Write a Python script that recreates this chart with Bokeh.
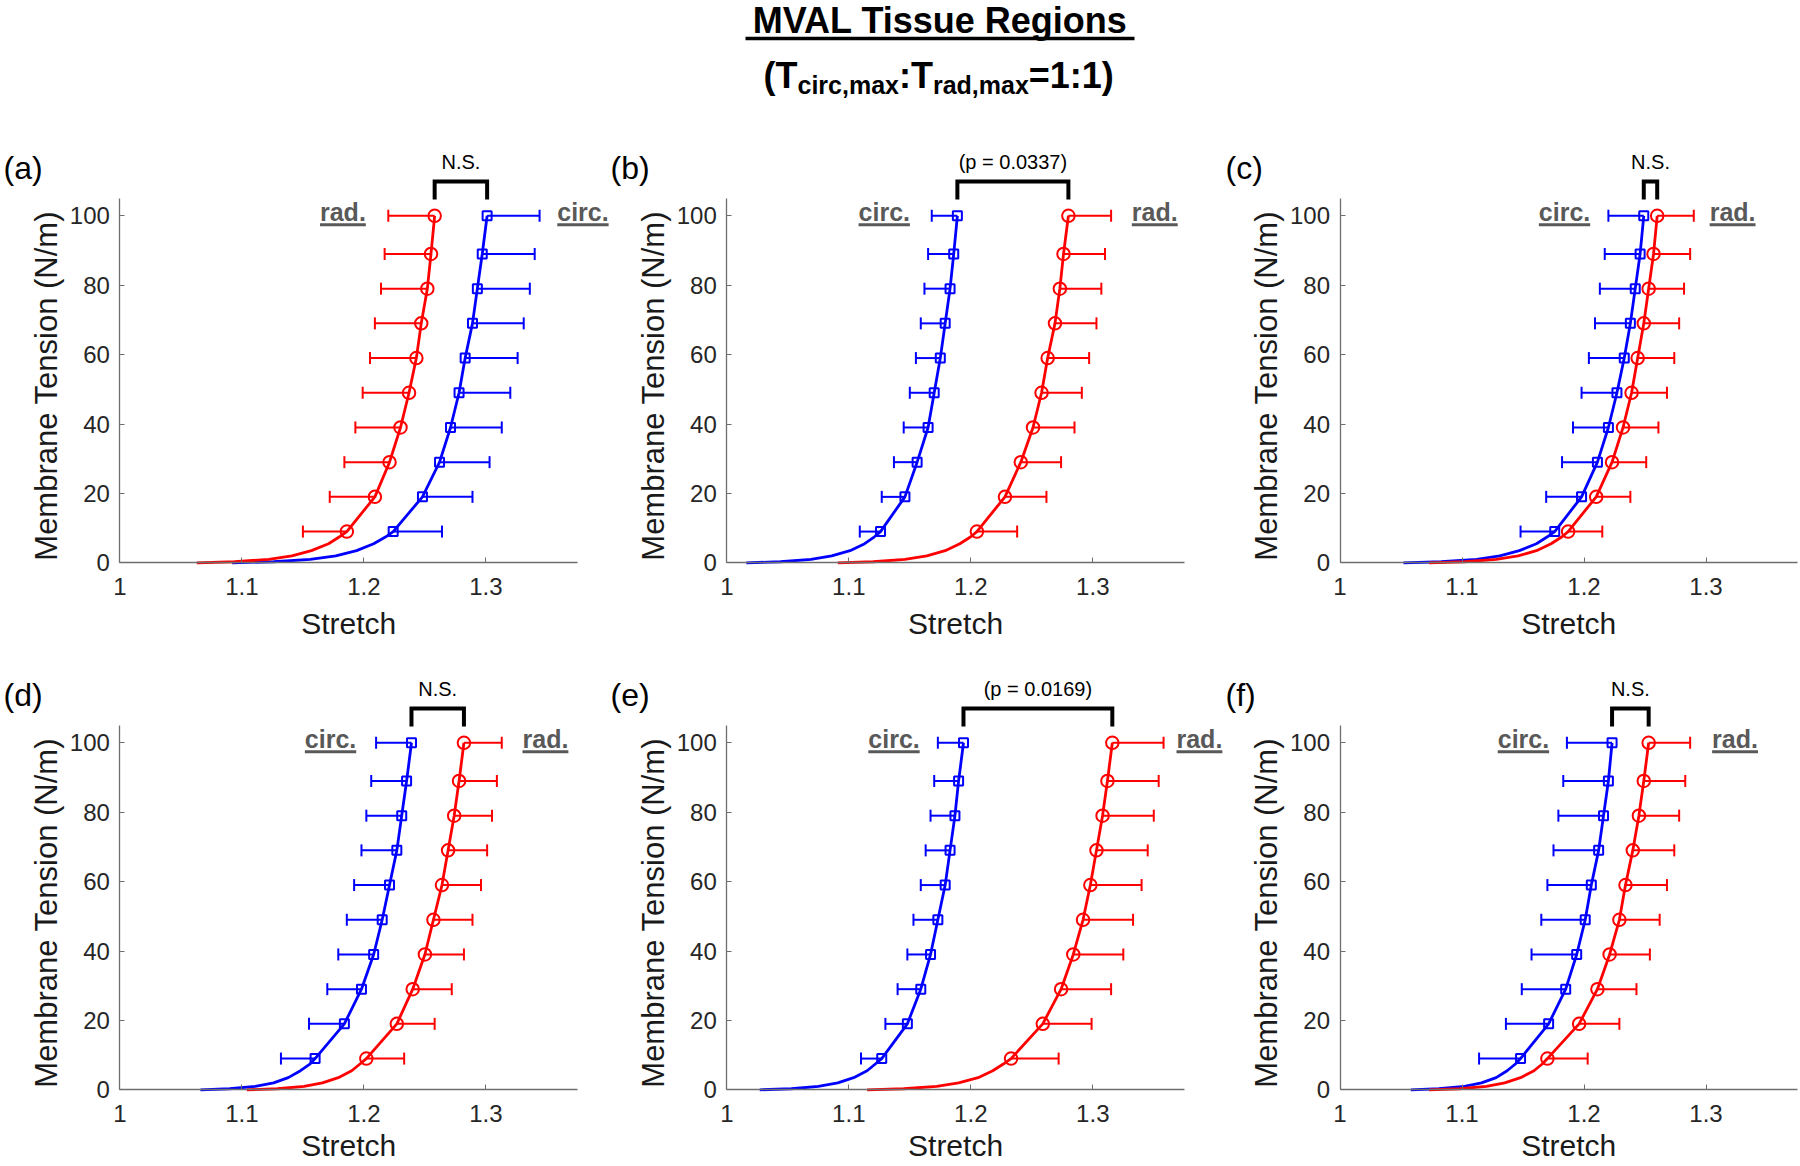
import math
from bokeh.plotting import figure
from bokeh.models import Range1d, Whisker, TeeHead, ColumnDataSource, FixedTicker
from bokeh.layouts import column, row
from bokeh.embed import file_html
from bokeh.resources import INLINE
from bokeh.core.properties import value

FONT = "Liberation Sans"

# ---------------- data ----------------
tension = [9, 19, 29, 39, 49, 59, 69, 79, 89, 100]
toe_tension = [0, 0.3, 1, 2, 3.5, 5.5, 7.5]

a_circ = [1.224, 1.248, 1.262, 1.271, 1.278, 1.283, 1.289, 1.293, 1.297, 1.301]
a_circ_err = [0.040, 0.041, 0.041, 0.042, 0.042, 0.043, 0.042, 0.043, 0.043, 0.043]
a_circ_toe = [1.092, 1.126, 1.156, 1.177, 1.194, 1.208, 1.218]
a_rad = [1.186, 1.209, 1.221, 1.230, 1.237, 1.243, 1.247, 1.252, 1.255, 1.258]
a_rad_err = [0.036, 0.037, 0.037, 0.037, 0.038, 0.038, 0.038, 0.038, 0.038, 0.038]
a_rad_toe = [1.063, 1.094, 1.122, 1.141, 1.157, 1.171, 1.180]

b_circ = [1.126, 1.146, 1.156, 1.165, 1.170, 1.175, 1.179, 1.183, 1.186, 1.189]
b_circ_err = [0.017, 0.019, 0.019, 0.020, 0.020, 0.020, 0.020, 0.021, 0.021, 0.021]
b_circ_toe = [1.016, 1.044, 1.069, 1.086, 1.101, 1.113, 1.121]
b_rad = [1.205, 1.228, 1.241, 1.251, 1.258, 1.263, 1.269, 1.273, 1.276, 1.280]
b_rad_err = [0.033, 0.034, 0.033, 0.034, 0.033, 0.034, 0.034, 0.034, 0.034, 0.035]
b_rad_toe = [1.091, 1.120, 1.146, 1.164, 1.179, 1.191, 1.200]

c_circ = [1.176, 1.198, 1.211, 1.220, 1.227, 1.233, 1.238, 1.242, 1.246, 1.249]
c_circ_err = [0.028, 0.029, 0.029, 0.029, 0.029, 0.029, 0.029, 0.029, 0.029, 0.029]
c_circ_toe = [1.052, 1.083, 1.112, 1.131, 1.147, 1.161, 1.170]
c_rad = [1.187, 1.210, 1.223, 1.232, 1.239, 1.244, 1.249, 1.253, 1.257, 1.260]
c_rad_err = [0.028, 0.028, 0.028, 0.029, 0.029, 0.030, 0.029, 0.029, 0.030, 0.030]
c_rad_toe = [1.073, 1.102, 1.128, 1.146, 1.161, 1.173, 1.182]

d_circ = [1.160, 1.184, 1.198, 1.208, 1.215, 1.221, 1.227, 1.231, 1.235, 1.239]
d_circ_err = [0.028, 0.029, 0.028, 0.029, 0.029, 0.029, 0.029, 0.029, 0.029, 0.029]
d_circ_toe = [1.066, 1.090, 1.111, 1.126, 1.138, 1.148, 1.156]
d_rad = [1.202, 1.227, 1.240, 1.250, 1.257, 1.264, 1.269, 1.274, 1.278, 1.282]
d_rad_err = [0.031, 0.031, 0.032, 0.032, 0.032, 0.032, 0.032, 0.031, 0.031, 0.031]
d_rad_toe = [1.104, 1.129, 1.151, 1.166, 1.179, 1.190, 1.197]

e_circ = [1.127, 1.148, 1.159, 1.167, 1.173, 1.179, 1.183, 1.187, 1.190, 1.194]
e_circ_err = [0.017, 0.018, 0.019, 0.019, 0.020, 0.020, 0.020, 0.020, 0.020, 0.021]
e_circ_toe = [1.027, 1.053, 1.075, 1.091, 1.104, 1.115, 1.122]
e_rad = [1.233, 1.259, 1.274, 1.284, 1.292, 1.298, 1.303, 1.308, 1.312, 1.316]
e_rad_err = [0.039, 0.040, 0.041, 0.041, 0.041, 0.042, 0.042, 0.042, 0.042, 0.042]
e_rad_toe = [1.115, 1.145, 1.172, 1.190, 1.206, 1.218, 1.227]

f_circ = [1.148, 1.171, 1.185, 1.194, 1.201, 1.206, 1.212, 1.216, 1.220, 1.223]
f_circ_err = [0.034, 0.035, 0.036, 0.037, 0.036, 0.036, 0.037, 0.037, 0.037, 0.037]
f_circ_toe = [1.058, 1.081, 1.102, 1.116, 1.128, 1.137, 1.144]
f_rad = [1.170, 1.196, 1.211, 1.221, 1.229, 1.234, 1.240, 1.245, 1.249, 1.253]
f_rad_err = [0.033, 0.033, 0.032, 0.033, 0.033, 0.034, 0.034, 0.033, 0.034, 0.034]
f_rad_toe = [1.073, 1.098, 1.120, 1.135, 1.148, 1.159, 1.166]

panel_tags = ["(a)", "(b)", "(c)", "(d)", "(e)", "(f)"]
sig_texts = ["N.S.", "(p = 0.0337)", "N.S.", "N.S.", "(p = 0.0169)", "N.S."]
x_ticks = [1, 1.1, 1.2, 1.3]
y_ticks = [0, 20, 40, 60, 80, 100]
x_title = "Stretch"
y_title = "Membrane Tension (N/m)"

# label placement (layout, in data units of each panel)
circ_label_x = [1.3585, 1.108, 1.163, 1.1516, 1.116, 1.1293]
rad_label_x = [1.164, 1.332, 1.303, 1.330, 1.3686, 1.305]

RED = "#FF0000"
BLUE = "#0000FF"
LABEL_GRAY = "#595959"
AXIS_GRAY = "#6e6e6e"

# ---------------- layout geometry (pixels) ----------------
PX_PER_UNIT = 1220.0     # px per 1.0 of stretch
PX_PER_T = 3.47          # px per 1 N/m
# (figure left on page, figure width, y-axis position on page, tag left on page)
col_geom = [(0, 610, 119.4, 3), (610, 614, 726.3, 610), (1224, 576, 1339.5, 1225)]
# (figure top on page, figure height, page y of T = 0, x-title centre offset below T=0 in px)
row_geom = [(125, 527, 562.3, 60.5), (652, 514, 1089.3, 56.0)]
TITLE_H = 125


def make_panel(i, circ, circ_err, circ_toe, rad, rad_err, rad_toe,
               fig_left, width, axis_x, tag_left, fig_top, height, zero_y, xt_off):
    x_start = 1 - (axis_x - fig_left) / PX_PER_UNIT
    x_end = 1 + (fig_left + width - axis_x) / PX_PER_UNIT
    y_start = -(fig_top + height - zero_y) / PX_PER_T
    y_end = (zero_y - fig_top) / PX_PER_T
    px = lambda dx: 1 + dx / PX_PER_UNIT   # horizontal px offset from the y axis -> data

    p = figure(width=width, height=height,
               x_range=Range1d(x_start, x_end), y_range=Range1d(y_start, y_end),
               output_backend="svg", toolbar_location=None,
               min_border_left=0, min_border_right=0,
               min_border_top=0, min_border_bottom=0,
               outline_line_color=None, background_fill_color="white")
    p.grid.visible = False

    xa = p.xaxis[0]
    ya = p.yaxis[0]
    xa.fixed_location = 0
    ya.fixed_location = 1
    xa.ticker = FixedTicker(ticks=x_ticks)
    xa.major_label_overrides = {1: "1", 1.1: "1.1", 1.2: "1.2", 1.3: "1.3"}
    ya.ticker = FixedTicker(ticks=y_ticks)
    xa.bounds = (1, 1.375)
    ya.bounds = (0, 105)
    for ax in (xa, ya):
        ax.axis_line_color = AXIS_GRAY
        ax.axis_line_width = 1.3
        ax.major_tick_line_color = AXIS_GRAY
        ax.major_tick_in = 5
        ax.major_tick_out = 0
        ax.minor_tick_line_color = None
        ax.major_label_text_font = FONT
        ax.major_label_text_font_size = "24px"
        ax.major_label_text_color = "#262626"
    xa.major_label_standoff = 15
    ya.major_label_standoff = 10

    # axis titles (centred on the drawn axis extent)
    p.text(x=[sum(xa.bounds) / 2], y=[-xt_off / PX_PER_T], text=[x_title], text_align="center",
           text_baseline="middle", text_font=value(FONT), text_font_size="30px",
           text_color="#1a1a1a")
    p.text(x=[px(-73.4)], y=[51], text=[y_title], text_align="center",
           text_baseline="middle", angle=math.pi / 2, text_font=value(FONT),
           text_font_size="31px", text_color="#1a1a1a")

    circ_left = circ[-1] < rad[-1]
    series = [
        (circ, circ_err, circ_toe, BLUE, "square", 9, circ_left),
        (rad, rad_err, rad_toe, RED, "circle", 12.5, not circ_left),
    ]
    for vals, errs, toe, color, marker, msize, left in series:
        p.line(toe + vals, toe_tension + tension, line_color=color, line_width=2.8)
        if left:
            lower = [v - e for v, e in zip(vals, errs)]
            upper = list(vals)
            lh, uh = TeeHead(size=12, line_color=color, line_width=2), None
        else:
            lower = list(vals)
            upper = [v + e for v, e in zip(vals, errs)]
            lh, uh = None, TeeHead(size=12, line_color=color, line_width=2)
        src = ColumnDataSource(dict(base=tension, lower=lower, upper=upper))
        p.add_layout(Whisker(source=src, base="base", lower="lower", upper="upper",
                             dimension="width", line_color=color, line_width=2,
                             lower_head=lh, upper_head=uh))
        p.scatter(vals, tension, marker=marker, size=msize, fill_color=None,
                  line_color=color, line_width=2)

    # significance bracket between the 100 N/m points
    xl = min(circ[-1], rad[-1])
    xr = max(circ[-1], rad[-1])
    p.line([xl, xl, xr, xr], [104.7, 109.9, 109.9, 104.7], line_color="black",
           line_width=4, line_join="miter")
    p.text(x=[(xl + xr) / 2], y=[115.4], text=[sig_texts[i]], text_align="center",
           text_baseline="middle", text_font=value(FONT), text_font_size="20px",
           text_color="black")

    # direction labels (underlined)
    for lx, txt, w in ((circ_label_x[i], "circ.", 0.0421), (rad_label_x[i], "rad.", 0.0376)):
        p.text(x=[lx], y=[101.0], text=[txt], text_align="left", text_baseline="middle",
               text_font=value(FONT), text_font_size="25px", text_font_style="bold",
               text_color=LABEL_GRAY)
        p.segment(x0=[lx], y0=[97.4], x1=[lx + w], y1=[97.4], line_color=LABEL_GRAY,
                  line_width=3)

    # panel tag
    p.text(x=[px(tag_left - axis_x)], y=[113.9], text=[panel_tags[i]], text_align="left",
           text_baseline="middle", text_font=value(FONT), text_font_size="32px",
           text_color="black")
    return p


data = [
    (a_circ, a_circ_err, a_circ_toe, a_rad, a_rad_err, a_rad_toe),
    (b_circ, b_circ_err, b_circ_toe, b_rad, b_rad_err, b_rad_toe),
    (c_circ, c_circ_err, c_circ_toe, c_rad, c_rad_err, c_rad_toe),
    (d_circ, d_circ_err, d_circ_toe, d_rad, d_rad_err, d_rad_toe),
    (e_circ, e_circ_err, e_circ_toe, e_rad, e_rad_err, e_rad_toe),
    (f_circ, f_circ_err, f_circ_toe, f_rad, f_rad_err, f_rad_toe),
]

panels = []
for i, d in enumerate(data):
    r, c = divmod(i, 3)
    fig_left, width, axis_x, tag_left = col_geom[c]
    fig_top, height, zero_y, xt_off = row_geom[r]
    panels.append(make_panel(i, *d, fig_left, width, axis_x, tag_left, fig_top, height,
                             zero_y, xt_off))

# ---------------- title ----------------
TW, TH = 1800, TITLE_H
t = figure(width=TW, height=TH, x_range=Range1d(0, TW), y_range=Range1d(0, TH),
           output_backend="svg", toolbar_location=None, min_border=0,
           x_axis_type=None, y_axis_type=None, outline_line_color=None)
t.grid.visible = False
t.text(x=[939.6], y=[TH - 19.5], text=["MVAL Tissue Regions"], text_align="center",
       text_baseline="middle", text_font=value(FONT), text_font_size="36px",
       text_font_style="bold", text_color="black")
t.segment(x0=[745], y0=[TH - 38], x1=[1134], y1=[TH - 38], line_color="black", line_width=3.5)

pieces = [("(T", 36, 0), ("circ,max", 25, 1), (":T", 36, 0), ("rad,max", 25, 1), ("=1:1)", 36, 0)]
widths = [0.944 * 36, 4.058 * 25, 0.944 * 36, 3.835 * 25, 2.362 * 36]
x = 763.0
for (txt, fs, sub), w in zip(pieces, widths):
    ymid = TH - (84.3 if sub else 74.5)
    t.text(x=[x], y=[ymid], text=[txt], text_align="left", text_baseline="middle",
           text_font=value(FONT), text_font_size=f"{fs}px", text_font_style="bold",
           text_color="black")
    x += w

layout = column(t, row(*panels[:3]), row(*panels[3:]))
open("out.html", "w").write(file_html(layout, INLINE))
